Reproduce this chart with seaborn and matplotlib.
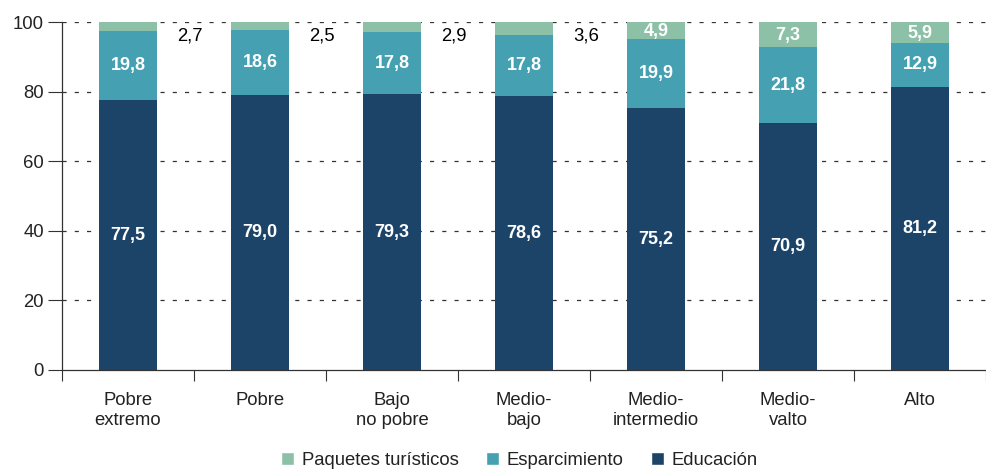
import numpy as np
import pandas as pd
import seaborn as sns
import matplotlib.pyplot as plt
from matplotlib.patches import Patch

# values (%)
estratos = ['Pobre\nextremo', 'Pobre', 'Bajo\nno pobre', 'Medio-\nbajo',
            'Medio-\nintermedio', 'Medio-\nvalto', 'Alto']
educacion = [77.5, 79.0, 79.3, 78.6, 75.2, 70.9, 81.2]
esparcimiento = [19.8, 18.6, 17.8, 17.8, 19.9, 21.8, 12.9]
paquetes = [2.7, 2.5, 2.9, 3.6, 4.9, 7.3, 5.9]

c_edu = '#1c4468'
c_esp = '#45a0b1'
c_paq = '#8cc0a7'

df = pd.DataFrame({'estrato': estratos, 'edu': educacion,
                   'esp': esparcimiento, 'paq': paquetes})
df['edu_esp'] = df['edu'] + df['esp']
df['total'] = df['edu_esp'] + df['paq']

sns.set_style('white')
plt.rcParams['font.family'] = ['Liberation Sans', 'DejaVu Sans']

fs = 13.3

fig = plt.figure(figsize=(9.86, 4.7), dpi=100)
ax = fig.add_axes([62 / 986, 100 / 470, 924 / 986, 348 / 470])

# stacked bars drawn back to front as cumulative heights
for col, c in [('total', c_paq), ('edu_esp', c_esp), ('edu', c_edu)]:
    sns.barplot(data=df, x='estrato', y=col, color=c, width=0.44,
                saturation=1, linewidth=0, ax=ax)

def fmt(v):
    return f'{v:.1f}'.replace('.', ',')

for i, row in df.iterrows():
    ax.text(i, row['edu'] / 2, fmt(row['edu']), ha='center', va='center',
            color='white', fontsize=13, fontweight='bold')
    ax.text(i, row['edu'] + row['esp'] / 2, fmt(row['esp']), ha='center',
            va='center', color='white', fontsize=13, fontweight='bold')
    if row['paq'] < 4:
        ax.text(i + 0.47, 96.0, fmt(row['paq']), ha='center', va='center',
                color='black', fontsize=fs)
    else:
        ax.text(i, row['edu_esp'] + row['paq'] / 2 - 0.3, fmt(row['paq']),
                ha='center', va='center', color='white', fontsize=13,
                fontweight='bold')

ax.set_ylim(0, 100)
ax.set_xlim(-0.5, -0.5 + 924 / 134)
ax.set_yticks([0, 20, 40, 60, 80, 100])
ax.set_xlabel('')
ax.set_ylabel('')
ax.tick_params(axis='y', labelsize=fs, length=10, width=0.8, color='#333333',
               direction='out', left=True, pad=3, labelcolor='#222222')
ax.set_xticks(range(7))
ax.set_xticklabels(estratos, fontsize=fs, color='#222222', linespacing=1.25)
ax.tick_params(axis='x', which='major', length=0, pad=16)
ax.set_xticks(np.arange(-0.5, 7, 1), minor=True)
ax.tick_params(axis='x', which='minor', length=8, width=0.8, color='#333333',
               direction='out', bottom=True)

for v in [20, 40, 60, 80, 100]:
    ax.axhline(v, color='#333333', linewidth=0.9, linestyle=(0, (3.3, 6.5)),
               zorder=0)

for s in ['top', 'right']:
    ax.spines[s].set_visible(False)
for s in ['left', 'bottom']:
    ax.spines[s].set_color('#333333')
    ax.spines[s].set_linewidth(0.9)

handles = [Patch(facecolor=c_paq, label='Paquetes turísticos'),
           Patch(facecolor=c_esp, label='Esparcimiento'),
           Patch(facecolor=c_edu, label='Educación')]
fig.legend(handles=handles, loc='center', bbox_to_anchor=(0.527, 0.02),
           ncol=3, frameon=False, fontsize=fs, handlelength=0.7,
           handleheight=0.7, handletextpad=0.4, columnspacing=1.5,
           labelcolor='#222222')

fig.savefig('out.png', dpi=100)
